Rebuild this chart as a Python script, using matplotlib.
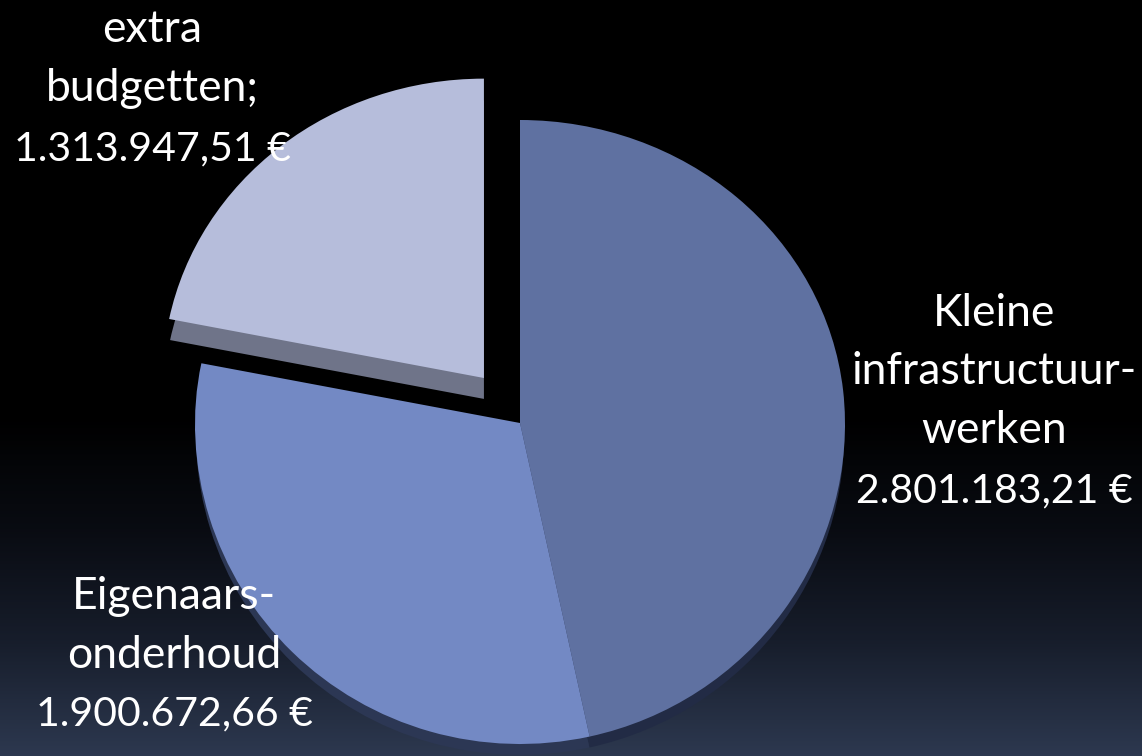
import numpy as np
import matplotlib
matplotlib.use("Agg")
import matplotlib.pyplot as plt

plt.rcParams['font.family'] = ['Lato', 'DejaVu Sans']

# bedragen in euro
values = [2801183.21, 1900672.66, 1313947.51]
names = ["Kleine\ninfrastructuur-\nwerken", "Eigenaars-\nonderhoud", "extra\nbudgetten;"]
amounts = ["2.801.183,21 €", "1.900.672,66 €", "1.313.947,51 €"]
colors = ["#5f71a1", "#7389c4", "#b6bddb"]
side_colors = ["#222b45", "#2c3754", "#6f7489"]

W, H = 1142, 756
cx, cy = 520, 423       # punt van de taart in pixels
rx, ry_up, ry_down = 325, 303, 321   # onderkant is wat groter (perspectief)

fig = plt.figure(figsize=(W / 100, H / 100), dpi=100)

# achtergrond: zwart boven, donkerblauw onder
bg = fig.add_axes([0, 0, 1, 1])
stops_y = [0, 0.55, 0.70, 0.85, 1]
stops_c = [[0, 0, 0], [0, 0, 0], [0.035, 0.045, 0.07], [0.09, 0.115, 0.17], [0.175, 0.22, 0.31]]
ys = np.linspace(0, 1, 256)
grad = np.stack([np.interp(ys, stops_y, [c[i] for c in stops_c]) for i in range(3)], axis=1)
bg.imshow(grad[:, None, :], aspect='auto', origin='upper')
bg.axis('off')

ax = fig.add_axes([0, 0, 1, 1])
ax.patch.set_alpha(0)

# zijkant
wedges, _ = ax.pie(values, colors=side_colors, startangle=90, counterclock=False,
                   center=(0, -0.037), radius=0.997)
wedges[2].set_center((-0.111, 0.0795))
wedges[2].set_radius(0.985)

# bovenkant
wedges, _ = ax.pie(values, colors=colors, startangle=90, counterclock=False,
                   center=(0, 0), radius=1)
wedges[2].set_center((-0.111, 0.1485))
wedges[2].set_radius(0.988)


def f_up(y):
    y = np.asarray(y, dtype=float)
    return np.where(y > 0, y * ry_up, y * ry_down)


def f_inv(v):
    v = np.asarray(v, dtype=float)
    return np.where(v > 0, v / ry_up, v / ry_down)


ax.set_aspect('auto')
ax.set_xlim((0 - cx) / rx, (W - cx) / rx)
ax.set_yscale('function', functions=(f_up, f_inv))
ax.set_ylim((cy - H) / ry_down, cy / ry_up)
ax.axis('off')

name_pos = [(994, 372), (174, 626), (152, 59)]
amount_pos = [(994, 491), (174, 714), (152, 149)]
for nm, (x, y) in zip(names, name_pos):
    fig.text(x / W, 1 - y / H, nm, color="white", fontsize=32, ha='center', va='center',
             linespacing=1.52)
for am, (x, y) in zip(amounts, amount_pos):
    fig.text(x / W, 1 - y / H, am, color="white", fontsize=29.5, ha='center', va='center')

fig.savefig("out.png", dpi=100)
